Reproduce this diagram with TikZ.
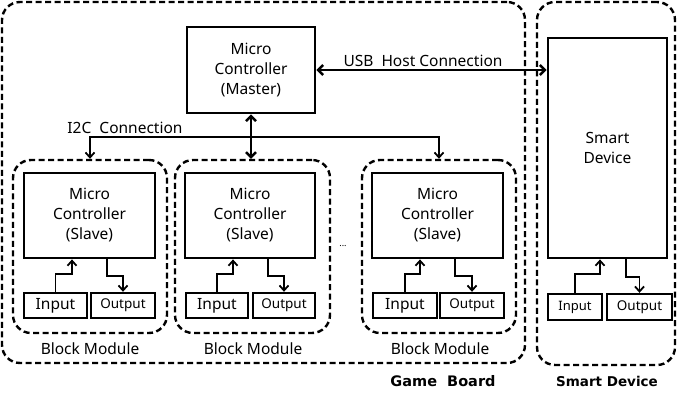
\documentclass[tikz,border=0pt]{standalone}
\usepackage{fontspec}
\setmainfont{Noto Sans}
\newfontfamily\dvsans{DejaVu Sans}
\usetikzlibrary{arrows.meta}
\tikzset{
  dbox/.style={draw, line width=2.4pt, dash pattern=on 6pt off 3.5pt, rounded corners=18pt, inner sep=0pt},
  sbox/.style={draw, line width=2.8pt, inner sep=0pt, align=center, font=\fontsize{15.5}{20}\selectfont},
  iobox/.style={draw, line width=2.4pt, inner sep=0pt},
  arr/.style={line width=1.8pt, -{Straight Barb[length=5pt,width=9pt,line width=1.8pt]}},
  arrb/.style={line width=2.4pt, {Straight Barb[length=5pt,width=10pt,line width=2.4pt]}-{Straight Barb[length=5pt,width=10pt,line width=2.4pt]}},
  lbl/.style={font=\fontsize{15.5}{18}\selectfont, inner sep=0pt},
  blbl/.style={font=\dvsans\fontsize{14.5}{17}\selectfont\bfseries, inner sep=0pt}
}
\begin{document}
\begin{tikzpicture}[x=1pt,y=-1pt]
\useasboundingbox (0,0) rectangle (677,403);
% outer dashed boxes
\node[dbox, minimum width=523pt, minimum height=361pt] (gb) at (263.5,182.5) {};
\node[dbox, minimum width=138pt, minimum height=363pt] (sdo) at (606,183.5) {};
% master
\node[sbox, minimum width=128pt, minimum height=86pt] (master) at (251,70) {Micro\\Controller\\(Master)};
% smart device
\node[sbox, minimum width=119pt, minimum height=220pt] (sd) at (607.5,148) {Smart\\Device};
% block modules
\node[dbox, minimum width=154pt, minimum height=173pt] (bm1) at (90,246.5) {};
\node[dbox, minimum width=155pt, minimum height=173pt] (bm2) at (252.5,246.5) {};
\node[dbox, minimum width=154pt, minimum height=173pt] (bm3) at (439,246.5) {};
% slave MCs
\node[sbox, minimum width=131pt, minimum height=85pt] (mc1) at (89.5,215.5) {Micro\\Controller\\(Slave)};
\node[sbox, minimum width=130pt, minimum height=85pt] (mc2) at (250,215.5) {Micro\\Controller\\(Slave)};
\node[sbox, minimum width=131pt, minimum height=85pt] (mc3) at (437.5,215.5) {Micro\\Controller\\(Slave)};
% IO boxes
\node[iobox, minimum width=63pt, minimum height=25pt, font=\fontsize{15.5}{17}\selectfont] (in1) at (55.5,305.5) {Input};
\node[iobox, minimum width=64pt, minimum height=25pt, font=\fontsize{13.5}{15}\selectfont] (out1) at (123,305.5) {Output};
\node[iobox, minimum width=62pt, minimum height=25pt, font=\fontsize{15.5}{17}\selectfont] (in2) at (217,305.5) {Input};
\node[iobox, minimum width=62pt, minimum height=25pt, font=\fontsize{13.5}{15}\selectfont] (out2) at (284,305.5) {Output};
\node[iobox, minimum width=64pt, minimum height=25pt, font=\fontsize{15.5}{17}\selectfont] (in3) at (405,305.5) {Input};
\node[iobox, minimum width=64pt, minimum height=25pt, font=\fontsize{13.5}{15}\selectfont] (out3) at (472,305.5) {Output};
\node[iobox, minimum width=54pt, minimum height=26pt, font=\fontsize{13}{15}\selectfont] (sin) at (575,307) {Input};
\node[iobox, minimum width=65pt, minimum height=26pt, font=\fontsize{13.5}{15}\selectfont] (sout) at (639.5,307) {Output};
% IO connectors
\draw[arr] (in1.north) -- ++(0,-18) -| ([xshift=-17.5pt]mc1.south);
\draw[arr] ([xshift=17.5pt]mc1.south) -- ++(0,17) -| (out1.north);
\draw[arr] (in2.north) -- ++(0,-18) -| ([xshift=-17pt]mc2.south);
\draw[arr] ([xshift=18pt]mc2.south) -- ++(0,17) -| (out2.north);
\draw[arr] (in3.north) -- ++(0,-18) -| ([xshift=-17.5pt]mc3.south);
\draw[arr] ([xshift=17.5pt]mc3.south) -- ++(0,17) -| (out3.north);
\draw[arr] (sin.north) -- ++(0,-19) -| ([xshift=-7.5pt]sd.south);
\draw[arr] ([xshift=18.5pt]sd.south) -- ++(0,18) -| (sout.north);
% master connections
\draw[arrb] (master.south) -- (master.south |- bm2.north);
\coordinate (i2c) at (251,137);
\draw[arr] (i2c) -| (bm1.north);
\draw[arr] (i2c) -| (bm3.north);
\draw[arrb] (master.east) -- (master.east -| sd.west);
% labels
\node[lbl] (li2c) at (125,128) {I2C~~Connection};
\node[lbl] (lusb) at (423,61) {USB~~Host Connection};
\node[font=\fontsize{9}{10}\selectfont, inner sep=0pt] (dots) at (343,246) {...};
\node[lbl] (lbm1) at (90,349) {Block Module};
\node[lbl] (lbm2) at (253,349) {Block Module};
\node[lbl] (lbm3) at (440,349) {Block Module};
\node[blbl] (lgb) at (443,381) {Game~~Board};
\node[blbl, font=\dvsans\fontsize{13.5}{16}\selectfont\bfseries] (lsd) at (607,381) {Smart Device};
\end{tikzpicture}
\end{document}
